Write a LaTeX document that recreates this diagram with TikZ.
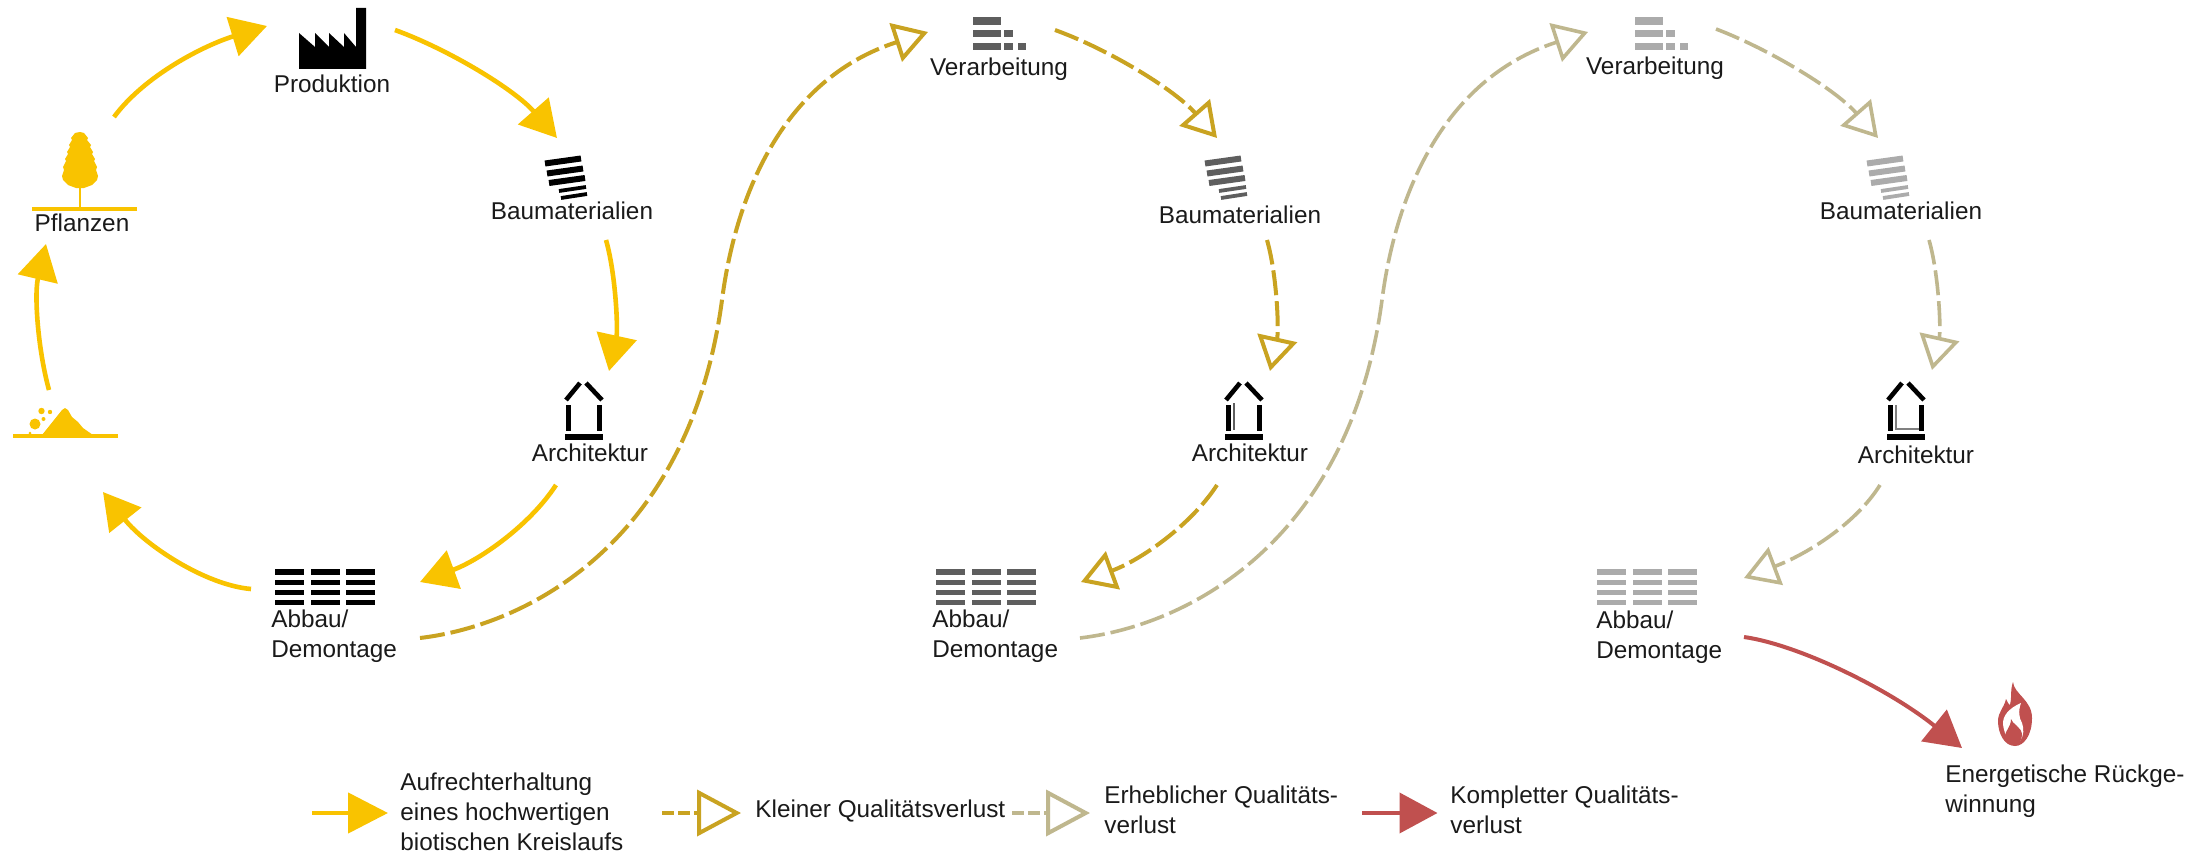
\documentclass[tikz,border=0pt]{standalone}
\usepackage{fontspec}
\setmainfont{Liberation Sans}
\usetikzlibrary{arrows.meta}
\definecolor{cyellow}{HTML}{F9C300}
\definecolor{cgold}{HTML}{C9A321}
\definecolor{ckhaki}{HTML}{BFB78E}
\definecolor{cred}{HTML}{C0504F}
\definecolor{ctext}{HTML}{1A1A1A}
\definecolor{gdark}{HTML}{5E5E5E}
\definecolor{glight}{HTML}{ABABAB}
\tikzset{
  lab/.style={font=\fontsize{12.15}{15}\selectfont, text=ctext, inner sep=0pt, align=left},
  solidy/.style={cyellow, line width=2.3pt, -{Triangle[length=18pt,width=20pt]}},
  dashg/.style={cgold, line width=2pt, dash pattern=on 12.5pt off 3pt, -{Triangle[open,length=17pt,width=20pt]}},
  dashk/.style={ckhaki, line width=1.8pt, dash pattern=on 12.5pt off 3pt, -{Triangle[open,length=17pt,width=20pt]}},
  solidr/.style={cred, line width=2pt, -{Triangle[length=18pt,width=20pt]}},
  legy/.style={cyellow, line width=2.3pt, -{Triangle[length=20pt,width=20pt]}},
  legg/.style={cgold, line width=2pt, dash pattern=on 6pt off 2pt, -{Triangle[open,length=22pt,width=23pt]}},
  legk/.style={ckhaki, line width=2pt, dash pattern=on 6pt off 2pt, -{Triangle[open,length=22pt,width=23pt]}},
  legr/.style={cred, line width=2pt, -{Triangle[length=19pt,width=20pt]}},
}
% #1 = x offset, #2 = colour
\newcommand\IconBricks[2]{\begin{scope}[shift={(#1,0)}, #2, line cap=butt]
  \draw[line width=3pt] (545,163.5) -- (581,158.5);
  \draw[line width=3pt] (547,173.5) -- (583,168.5);
  \draw[line width=3pt] (549,183) -- (585,178);
  \draw[line width=1.9pt] (559,191) -- (586,187);
  \draw[line width=1.9pt] (561,198) -- (587,194);
\end{scope}}
\newcommand\IconTiles[2]{\begin{scope}[shift={(#1,0)}, #2]
  \foreach \yy in {572,582.5,592.5,602.5}{
    \fill (275,\yy-2.6) rectangle (304,\yy+2.6);
    \fill (311,\yy-2.6) rectangle (340,\yy+2.6);
    \fill (346,\yy-2.6) rectangle (375,\yy+2.6);
  }
\end{scope}}
\newcommand\IconHouse[1]{\begin{scope}[shift={(#1,0)}, black]
  \draw[line width=2.3pt] (566,400) -- (580,383);
  \draw[line width=2.3pt] (602,400) -- (586,383);
  \fill (566,405) rectangle (571,431);
  \fill (597,405) rectangle (602,431);
  \fill (565,433.5) rectangle (603,439.5);
\end{scope}}
\newcommand\IconChips[2]{\begin{scope}[shift={(#1,0)}, #2]
  \fill (973,17) rectangle (1001,25);
  \fill (973,30) rectangle (1001,37.5);
  \fill (1004,30) rectangle (1012.5,37.5);
  \fill (973,43) rectangle (1001,50);
  \fill (1004,43) rectangle (1012.5,50);
  \fill (1018,43) rectangle (1026,50);
\end{scope}}
\begin{document}
\begin{tikzpicture}[x=0.5pt,y=-0.5pt]
\useasboundingbox[fill=white] (0,0) rectangle (2211,856);

% labels
\node[lab,anchor=base] (prod) at (332,93) {Produktion};
\node[lab,anchor=base] (bau1) at (572,220) {Baumaterialien};
\node[lab,anchor=base] (pfl) at (82,231) {Pflanzen};
\node[lab,anchor=base] (arch1) at (590,461) {Architektur};
\node[lab,anchor=base west] (abb1) at (271,657) {Abbau/\\Demontage};
\node[lab,anchor=base] (ver2) at (999,76) {Verarbeitung};
\node[lab,anchor=base] (bau2) at (1240,223) {Baumaterialien};
\node[lab,anchor=base] (arch2) at (1250,461) {Architektur};
\node[lab,anchor=base west] (abb2) at (932,657) {Abbau/\\Demontage};
\node[lab,anchor=base] (ver3) at (1655,75) {Verarbeitung};
\node[lab,anchor=base] (bau3) at (1901,220) {Baumaterialien};
\node[lab,anchor=base] (arch3) at (1916,463) {Architektur};
\node[lab,anchor=base west] (abb3) at (1596,658) {Abbau/\\Demontage};
\node[lab,anchor=base west] (ene) at (1945,812) {Energetische Rückge-\\winnung};
\coordinate (rubble) at (66,436);
\coordinate (fire) at (2014,746);

% legend texts
\node[lab,anchor=base west] (leg1) at (400,850) {Aufrechterhaltung\\eines hochwertigen\\biotischen Kreislaufs};
\node[lab,anchor=base west] (leg2) at (755,817) {Kleiner Qualitätsverlust};
\node[lab,anchor=base west] (leg3) at (1104,833) {Erheblicher Qualitäts-\\verlust};
\node[lab,anchor=base west] (leg4) at (1450,833) {Kompletter Qualitäts-\\verlust};

% factory
\fill[black] (299,69) -- (299,33) -- (315,47) -- (315,33) -- (329,47) -- (329,33) -- (344,47) -- (344,33) -- (356,47) -- (356,8) -- (366,8) -- (366,69) -- cycle;

% icons, black series
\IconBricks{0}{black}
\IconHouse{0}
\IconTiles{0}{black}
% grey series
\IconChips{0}{gdark}
\IconBricks{660}{gdark}
\IconHouse{660}
\draw[gdark, line width=0.6pt] (1234,403) -- (1234,430);
\IconTiles{661}{gdark}
% light series
\IconChips{662}{glight}
\IconBricks{1322}{glight}
\IconHouse{1322}
\draw[gray, line width=0.6pt] (1896,405) -- (1896,429) -- (1919,429);
\IconTiles{1322}{glight}

% tree
\fill[cyellow] (80,132) -- (84,133) -- (88,138) -- (87,140) -- (91,145) -- (90,147) -- (93,152) -- (92,154) -- (95,159) -- (94,161) -- (97,167) -- (96,170) -- (98,176) -- (97,180) -- (92,185) -- (84,188) -- (76,188) -- (68,185) -- (63,180) -- (62,176) -- (64,170) -- (63,167) -- (66,161) -- (65,159) -- (68,154) -- (67,152) -- (70,147) -- (69,145) -- (72,140) -- (71,138) -- (75,133) -- cycle;
\draw[cyellow, line width=1pt] (80,186) -- (80,209);
\fill[cyellow] (32,207) rectangle (137,211);

% rubble
\fill[cyellow] (13,434) rectangle (118,438);
\fill[cyellow] (42,435) -- (50,425) -- (58,415) -- (62,410) -- (65,408) -- (68,410) -- (72,417) -- (78,422) -- (83,428) -- (93,435) -- cycle;
\fill[cyellow] (35,424) circle[radius=5.5];
\fill[cyellow] (41.5,411) circle[radius=3.2];
\fill[cyellow] (50,412) circle[radius=2.2];
\fill[cyellow] (43.5,419) circle[radius=2];
\fill[cyellow] (30,433) circle[radius=1.5];

% flame
\fill[cred] (2013,682) .. controls (2014,694) and (2032,700) .. (2032,718) .. controls (2032,735) and (2024,746) .. (2015,746) .. controls (2004,746) and (1998,733) .. (1998,721) .. controls (1998,712) and (2004,708) .. (2006,699) .. controls (2008,703) and (2009,705) .. (2010,705) .. controls (2012,698) and (2010,690) .. (2013,682) -- cycle;
\fill[white] (2021,703) .. controls (2014,706) and (2004,712) .. (2003,722) .. controls (2003,730) and (2006,737) .. (2010,741) -- (2020,741) .. controls (2024,736) and (2024,728) .. (2022,723) .. controls (2019,718) and (2018,711) .. (2021,703) -- cycle;
\fill[cred] (2011,719) .. controls (2012,724) and (2022,727) .. (2022,735) .. controls (2022,741) and (2018,745) .. (2014,745) .. controls (2009,745) and (2005,741) .. (2005,736) .. controls (2005,731) and (2011,727) .. (2011,719) -- cycle;

% yellow loop
\draw[solidy] ([shift={(32,-114)}]pfl.base) .. controls (145,75) and (205,45) .. ([shift={(-65,-67)}]prod.base);
\draw[solidy] ([shift={(63,-63)}]prod.base) .. controls (450,50) and (515,90) .. ([shift={(-15,-82)}]bau1.base);
\draw[solidy] ([shift={(34,20)}]bau1.base) .. controls (616,275) and (618,330) .. ([shift={(19,-90)}]arch1.base);
\draw[solidy] ([shift={(-34,24)}]arch1.base) .. controls (530,525) and (480,560) .. ([shift={(149,-75)}]abb1.base west);
\draw[solidy] ([shift={(-20,-68)}]abb1.base west) .. controls (205,585) and (145,545) .. ([shift={(37,56)}]rubble);
\draw[solidy] ([shift={(-17,-46)}]rubble) .. controls (38,350) and (34,295) .. ([shift={(-36,13)}]pfl.base);

% gold
\draw[dashg] ([shift={(149,-19)}]abb1.base west) .. controls (530,625) and (690,540) .. (722,300) .. controls (735,200) and (780,80) .. ([shift={(-71,-44)}]ver2.base);
\draw[dashg] ([shift={(56,-46)}]ver2.base) .. controls (1110,50) and (1175,90) .. ([shift={(-23,-85)}]bau2.base);
\draw[dashg] ([shift={(27,17)}]bau2.base) .. controls (1277,275) and (1279,330) .. ([shift={(20,-90)}]arch2.base);
\draw[dashg] ([shift={(-33,24)}]arch2.base) .. controls (1191,525) and (1141,560) .. ([shift={(149,-75)}]abb2.base west);

% khaki
\draw[dashk] ([shift={(148,-19)}]abb2.base west) .. controls (1190,625) and (1350,540) .. (1382,300) .. controls (1395,200) and (1440,80) .. ([shift={(-67,-43)}]ver3.base);
\draw[dashk] ([shift={(61,-46)}]ver3.base) .. controls (1771,50) and (1836,90) .. ([shift={(-23,-82)}]bau3.base);
\draw[dashk] ([shift={(28,20)}]bau3.base) .. controls (1939,275) and (1941,330) .. ([shift={(16,-93)}]arch3.base);
\draw[dashk] ([shift={(-36,22)}]arch3.base) .. controls (1855,525) and (1805,555) .. ([shift={(148,-80)}]abb3.base west);

% red
\draw[solidr] ([shift={(148,-21)}]abb3.base west) .. controls (1800,645) and (1890,690) .. ([shift={(-52,2)}]fire);

% legend arrows
\draw[legy] ([shift={(-88,-37)}]leg1.base west) -- ([shift={(-12,-37)}]leg1.base west);
\draw[legg] ([shift={(-93,-4)}]leg2.base west) -- ([shift={(-14,-4)}]leg2.base west);
\draw[legk] ([shift={(-92,-20)}]leg3.base west) -- ([shift={(-14,-20)}]leg3.base west);
\draw[legr] ([shift={(-88,-20)}]leg4.base west) -- ([shift={(-12.5,-20)}]leg4.base west);
\end{tikzpicture}
\end{document}
